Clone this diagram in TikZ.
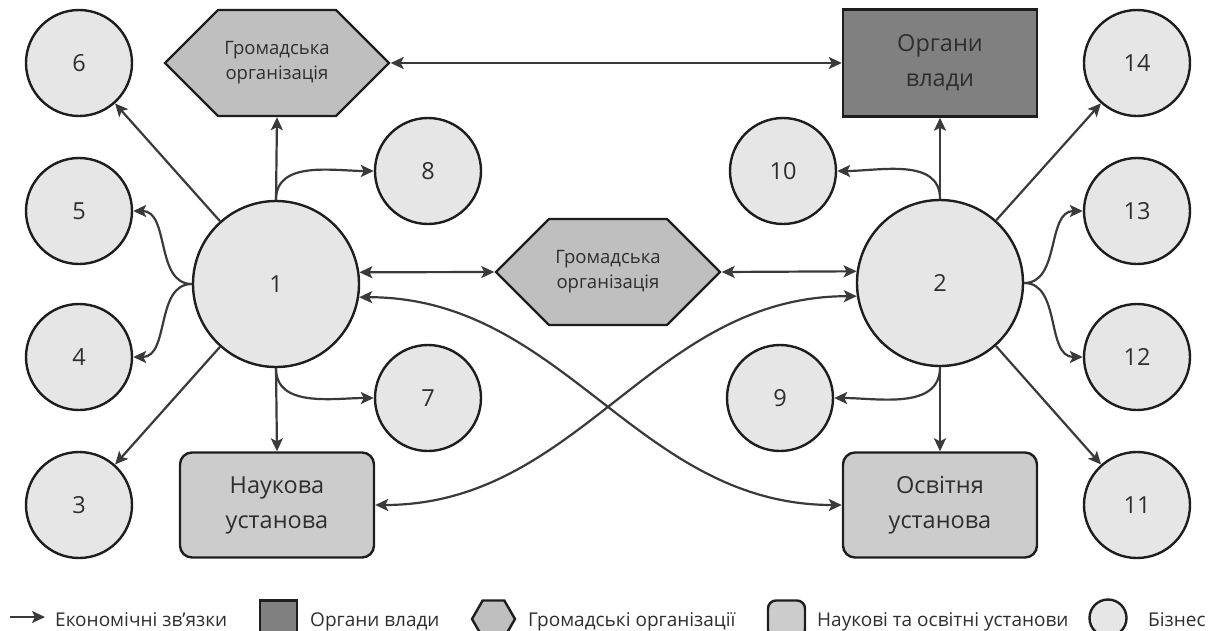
\documentclass[tikz,border=0pt]{standalone}
\usepackage{fontspec}
\setmainfont{Open Sans}
\usetikzlibrary{arrows.meta,shapes.symbols}
\definecolor{inkline}{HTML}{3A3A3A}
\definecolor{inkborder}{HTML}{1E1E1E}
\definecolor{inktext}{HTML}{2E2E2E}
\definecolor{bizfill}{HTML}{E6E6E6}
\definecolor{ngofill}{HTML}{BFBFBF}
\definecolor{govfill}{HTML}{808080}
\definecolor{instfill}{HTML}{CCCCCC}
\tikzset{
	biz/.style={circle, draw=inkborder, fill=bizfill, line width=2.4pt, inner sep=0pt,
		minimum size=106pt, text=inktext, font=\fontsize{23.5}{28}\selectfont},
	bigbiz/.style={biz, minimum size=166pt},
	gov/.style={rectangle, draw=inkborder, fill=govfill, line width=2.4pt, inner sep=0pt,
		minimum width=194pt, minimum height=107pt, align=center, text=inktext,
		font=\fontsize{23.5}{35}\selectfont},
	inst/.style={gov, fill=instfill, rounded corners=12pt, minimum height=105pt},
	ngo/.style={signal, signal to=east and west, draw=inkborder, fill=ngofill, line width=2.4pt,
		inner sep=0pt, minimum width=224pt, minimum height=106pt, align=center, text=inktext,
		font=\fontsize{18.5}{25}\selectfont},
	link/.style={draw=inkline, line width=2.2pt, -{Stealth[length=13pt,width=12pt,inset=3pt]}},
	links/.style={link, {Stealth[length=13pt,width=12pt,inset=3pt]}-{Stealth[length=13pt,width=12pt,inset=3pt]}},
	keytext/.style={anchor=base west, inner sep=0pt, text=inktext, font=\fontsize{19}{24}\selectfont},
}
\begin{document}
\begin{tikzpicture}[x=1pt,y=-1pt]
	\useasboundingbox (0,0) rectangle (1211,630);
	% business
	\node[bigbiz] (b1) at (276,284) {1};
	\node[bigbiz] (b2) at (940,283) {2};
	\node[biz] (b3) at (79,505) {3};
	\node[biz] (b4) at (79,357) {4};
	\node[biz] (b5) at (79,211) {5};
	\node[biz] (b6) at (79,63) {6};
	\node[biz] (b7) at (428,398) {7};
	\node[biz] (b8) at (428,171) {8};
	\node[biz] (b9) at (780,398) {9};
	\node[biz] (b10) at (783,171) {10};
	\node[biz] (b11) at (1137,505) {11};
	\node[biz] (b12) at (1137,357) {12};
	\node[biz] (b13) at (1137,211) {13};
	\node[biz] (b14) at (1137,63) {14};
	% others
	\node[gov] (gov) at (940,63) {Органи\\влади};
	\node[inst] (sci) at (277,505) {Наукова\\установа};
	\node[inst] (edu) at (940,505) {Освітня\\установа};
	\node[ngo] (ngoT) at (277,63) {Громадська\\організація};
	\node[ngo] (ngoM) at (608,272) {Громадська\\організація};

	\draw[links] (ngoT.east) -- (gov.west);
	\draw[link] (b1.north) -- (ngoT.south);
	\draw[link] (b1.north) to[out=90,in=180] (b8.west);
	\draw[link] (b1) -- (b6);
	\draw[link] (b1) -- (b3);
	\draw[link] (b1.west) to[out=180,in=0] (b5.east);
	\draw[link] (b1.west) to[out=180,in=0] (b4.east);
	\draw[link] (b1.south) -- (sci.north);
	\draw[link] (b1.south) to[out=-90,in=180] (b7.west);
	\draw[links] (b1.8) -- (ngoM.west);
	\draw[links] (ngoM.east) -- (b2.172);
	\draw[links] (b1.-9) to[out=0,in=180] (edu.west);
	\draw[links] (b2.189) to[out=180,in=0] (sci.east);

	\draw[link] (b2.north) -- (gov.south);
	\draw[link] (b2.north) to[out=90,in=0] (b10.east);
	\draw[link] (b2) -- (b14);
	\draw[link] (b2) -- (b11);
	\draw[link] (b2.east) to[out=0,in=180] (b13.west);
	\draw[link] (b2.east) to[out=0,in=180] (b12.west);
	\draw[link] (b2.south) -- (edu.north);
	\draw[link] (b2.south) to[out=-90,in=0] (b9.east);

	% legend
	\coordinate (k0) at (10,617);
	\coordinate (k1) at (45,617);
	\draw[link] (k0) -- (k1);
	\node[keytext] (t1) at (55,626) {Економічні зв’язки};
	\node[gov, minimum width=37pt, minimum height=37pt] (kgov) at (278.5,619) {};
	\node[keytext] (t2) at (310,626) {Органи влади};
	\node[ngo, minimum width=43pt, minimum height=37pt, signal pointer angle=120] (kngo) at (493.5,619) {};
	\node[keytext] (t3) at (528,626) {Громадські організації};
	\node[inst, minimum width=37pt, minimum height=37pt, rounded corners=8pt] (kinst) at (786.5,619) {};
	\node[keytext] (t4) at (817,626) {Наукові та освітні установи};
	\node[biz, minimum size=37pt] (kbiz) at (1108,618) {};
	\node[keytext] (t5) at (1148,626) {Бізнес};
\end{tikzpicture}
\end{document}
